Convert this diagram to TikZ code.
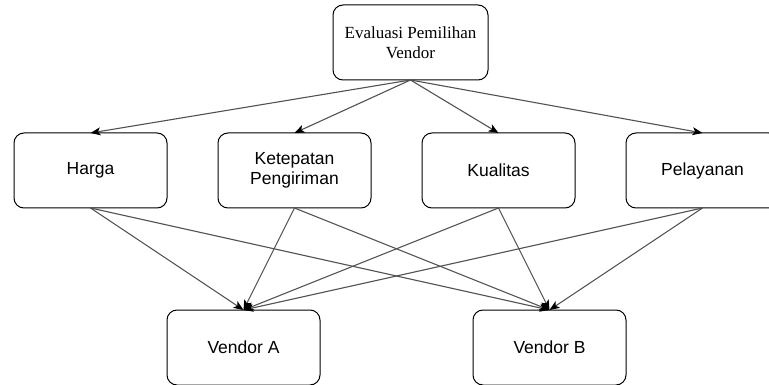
\documentclass[tikz,border=0pt]{standalone}
\usepackage{fontspec}
\setmainfont{Liberation Serif}
\setsansfont{Liberation Sans}
\usepackage{tikz}
\usetikzlibrary{arrows.meta, positioning}
\usepackage{xcolor}

\begin{document}
\begin{tikzpicture}[
x=1pt, y=1pt,
node distance=51pt,
box/.style={draw,
rectangle,
rounded corners=10pt,
line width=1pt,
outer sep=0pt,
minimum width=153pt,
minimum height=75pt,
align=center,
font=\sffamily\fontsize{17.5}{20}\selectfont},
arrow/.style={-{Stealth[length=10pt, width=8pt, inset=2.5pt, color=black]}, draw=black!68, line width=1.1pt}
]
\useasboundingbox (0,0) rectangle (769,-385);

\node[box, minimum width=155pt, font=\rmfamily\fontsize{17}{20}\selectfont] (goal) at (410.5,-42.5) {Evaluasi Pemilihan\\Vendor};

\node[box] (harga) at (90.5,-170.5) {Harga};
\node[box, right=of harga] (ketepatan) {Ketepatan\\Pengiriman};
\node[box, right=of ketepatan] (kualitas) {Kualitas};
\node[box, right=of kualitas] (pelayanan) {Pelayanan};

\node[box] (vendorA) at (243.5,-347.5) {Vendor A};
\node[box, right=153pt of vendorA] (vendorB) {Vendor B};

\foreach \k in {harga, ketepatan, kualitas, pelayanan} {
  \draw[arrow] (goal.south) -- (\k.north);
  \draw[arrow] (\k.south) -- (vendorA.north);
  \draw[arrow] (\k.south) -- (vendorB.north);
}

\end{tikzpicture}
\end{document}
